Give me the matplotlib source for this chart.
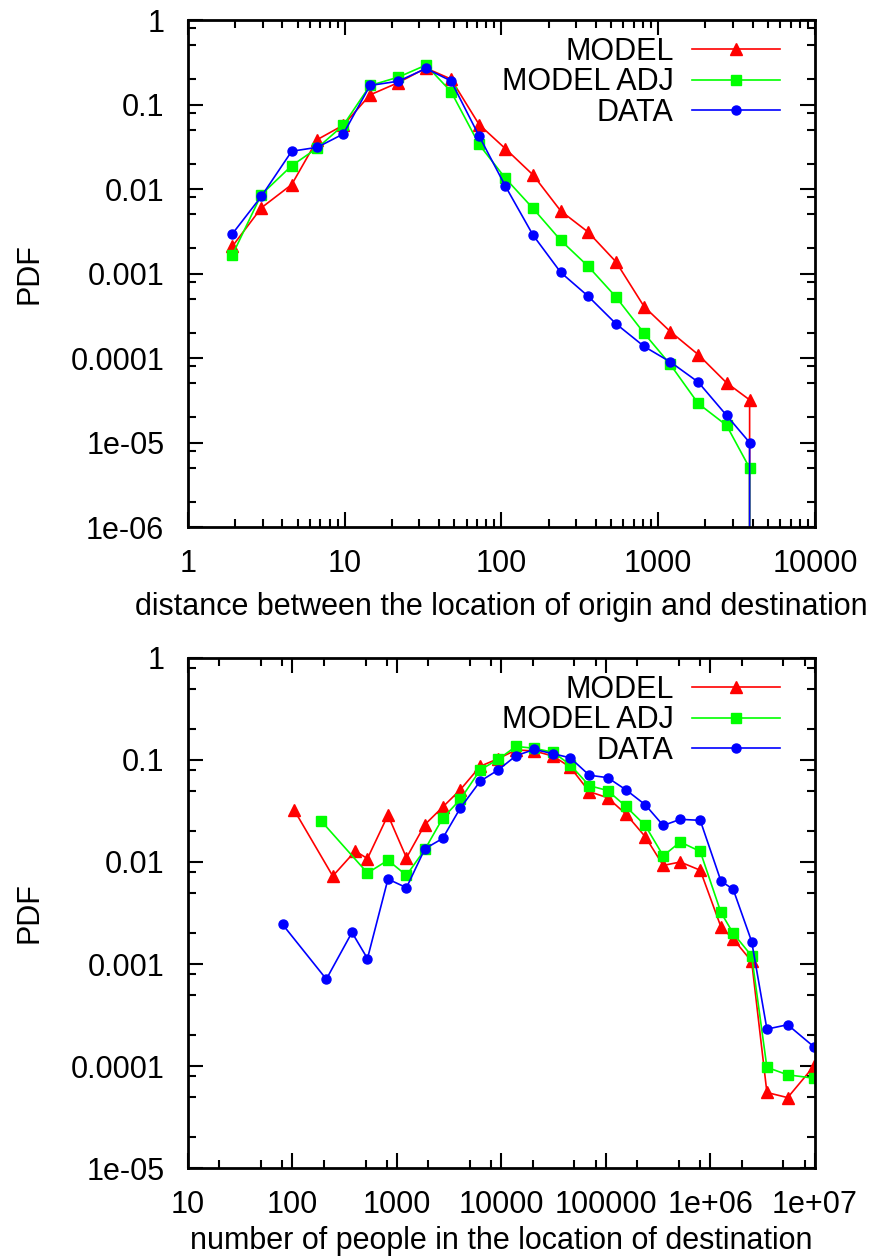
import numpy as np
import matplotlib
matplotlib.use("Agg")
import matplotlib.pyplot as plt
from matplotlib.ticker import FixedLocator, FixedFormatter, NullFormatter

plt.rcParams["font.family"] = ["Liberation Sans", "DejaVu Sans"]
plt.rcParams["font.size"] = 22

# ---- top panel: distance between origin and destination ----
dist_bins = [1.92, 2.94, 4.59, 6.69, 9.8, 14.5, 22, 33, 47.7, 72, 106, 159,
             239, 357, 537, 814, 1194, 1799, 2728, 3830]
dist_model = [0.0021, 0.0060, 0.0113, 0.0385, 0.057, 0.130, 0.182, 0.27, 0.200,
              0.058, 0.030, 0.0147, 0.0055, 0.0031, 0.00138, 0.000405,
              0.000206, 0.00011, 5.1e-5, 3.2e-5]
dist_model_adj = [0.00166, 0.0086, 0.0189, 0.0306, 0.057, 0.168, 0.211, 0.293,
                  0.142, 0.0337, 0.0134, 0.0059, 0.00247, 0.00122, 0.00053,
                  0.000196, 8.4e-5, 2.9e-5, 1.6e-5, 5.0e-6]
dist_data = [0.00295, 0.0082, 0.028, 0.0312, 0.0449, 0.168, 0.189, 0.267, 0.19,
             0.0424, 0.0108, 0.00285, 0.00103, 0.00054, 0.000255, 0.000137,
             9.0e-5, 5.2e-5, 2.1e-5, 1.0e-5]
# all three series end with an empty bin at the last distance (value 0)
dist_tail = 0.0

# ---- bottom panel: population at destination ----
pop_bins = [1233, 1853, 2735, 4032, 6266, 9333, 13770, 20610, 31330, 45530,
            69220, 103800, 155400, 237600, 353300, 513800, 798500, 1.26e6,
            1.65e6, 2.48e6, 3.47e6, 5.48e6, 9.72e6]
pop_model_x = [104, 243, 399, 522, 820] + pop_bins
pop_model = [0.0322, 0.00728, 0.0128, 0.0108, 0.0288,
             0.011, 0.0233, 0.0345, 0.051, 0.0868, 0.103, 0.1255, 0.1226,
             0.109, 0.085, 0.049, 0.0426, 0.0295, 0.0177, 0.00925, 0.01,
             0.0083, 0.00231, 0.00176, 0.00106, 5.5e-5, 4.9e-5, 9.9e-5]
pop_model_adj_x = [188, 522, 820] + pop_bins
pop_model_adj = [0.0253, 0.0078, 0.0104,
                 0.0074, 0.0133, 0.0268, 0.041, 0.080, 0.1016, 0.136, 0.130,
                 0.119, 0.0896, 0.056, 0.0502, 0.035, 0.0228, 0.0115, 0.0157,
                 0.0127, 0.0032, 0.002, 0.0012, 9.7e-5, 8.2e-5, 7.6e-5]
pop_data_x = [80.5, 211, 371, 522, 820] + pop_bins
pop_data = [0.00244, 0.00071, 0.00204, 0.00113, 0.0068,
            0.0056, 0.0135, 0.017, 0.0337, 0.062, 0.080, 0.11, 0.127, 0.115,
            0.105, 0.0709, 0.0671, 0.051, 0.0364, 0.0228, 0.0262, 0.0256,
            0.0065, 0.0054, 0.00166, 0.00023, 0.000254, 0.000155]

labels = ["MODEL", "MODEL ADJ", "DATA"]
colors = ["#ff0000", "#00ff00", "#0000ff"]
markers = ["^", "s", "o"]
msizes = [9, 6.5, 6.5]

top_xticks = [1, 10, 100, 1000, 10000]
top_xlabels = ["1", "10", "100", "1000", "10000"]
top_yticks = [1, 0.1, 0.01, 0.001, 0.0001, 1e-5, 1e-6]
top_ylabels = ["1", "0.1", "0.01", "0.001", "0.0001", "1e-05", "1e-06"]
bot_xticks = [10, 100, 1000, 1e4, 1e5, 1e6, 1e7]
bot_xlabels = ["10", "100", "1000", "10000", "100000", "1e+06", "1e+07"]
bot_yticks = [1, 0.1, 0.01, 0.001, 0.0001, 1e-5]
bot_ylabels = ["1", "0.1", "0.01", "0.001", "0.0001", "1e-05"]


def minor_positions(lo, hi, mults):
    out = []
    e = int(np.floor(np.log10(lo)))
    while 10 ** e <= hi:
        for m in mults:
            v = m * 10.0 ** e
            if lo < v < hi:
                out.append(v)
        e += 1
    return out


def style_axes(ax, xlim, ylim, xt, xl, yt, yl, xminor, yminor):
    ax.set_xscale("log")
    ax.set_yscale("log")
    ax.set_xlim(*xlim)
    ax.set_ylim(*ylim)
    ax.xaxis.set_major_locator(FixedLocator(xt))
    ax.xaxis.set_major_formatter(FixedFormatter(xl))
    ax.yaxis.set_major_locator(FixedLocator(yt))
    ax.yaxis.set_major_formatter(FixedFormatter(yl))
    ax.xaxis.set_minor_locator(FixedLocator(minor_positions(xlim[0], xlim[1], xminor)))
    ax.yaxis.set_minor_locator(FixedLocator(minor_positions(ylim[0], ylim[1], yminor)))
    ax.xaxis.set_minor_formatter(NullFormatter())
    ax.yaxis.set_minor_formatter(NullFormatter())
    ax.tick_params(which="both", direction="in", top=True, right=True, width=1.5)
    ax.tick_params(axis="x", which="major", length=11, pad=16)
    ax.tick_params(axis="x", which="minor", length=5.5)
    ax.tick_params(axis="y", which="major", length=11, pad=17)
    ax.tick_params(axis="y", which="minor", length=5.5)
    for sp in ax.spines.values():
        sp.set_linewidth(2)
    ax.set_ylabel("PDF", labelpad=19)


fig = plt.figure(figsize=(8.69, 12.6), dpi=100)
ax1 = fig.add_axes([0.2163, 0.5817, 0.7215, 0.4024])
ax2 = fig.add_axes([0.2163, 0.0730, 0.7215, 0.4048])

# top panel
top_series = [dist_model, dist_model_adj, dist_data]
for ys, lab, c, m, ms in zip(top_series, labels, colors, markers, msizes):
    xs = dist_bins + [dist_bins[-1]]
    yv = ys + [dist_tail]
    ax1.plot(xs, yv, color=c, lw=1.2, marker=m, ms=ms, mec=c, mfc=c,
             markevery=list(range(len(ys))), label=lab)
style_axes(ax1, (1, 10000), (1e-6, 1), top_xticks, top_xlabels,
           top_yticks, top_ylabels, range(2, 10), [2, 5, 8])
ax1.set_xlabel("distance between the location of origin and destination", labelpad=9)

# bottom panel
bot_series = [(pop_model_x, pop_model), (pop_model_adj_x, pop_model_adj),
              (pop_data_x, pop_data)]
for (xs, ys), lab, c, m, ms in zip(bot_series, labels, colors, markers, msizes):
    ax2.plot(xs, ys, color=c, lw=1.2, marker=m, ms=ms, mec=c, mfc=c, label=lab)
style_axes(ax2, (10, 1e7), (1e-5, 1), bot_xticks, bot_xlabels,
           bot_yticks, bot_ylabels, [2, 5, 8], [2, 5, 8])
ax2.set_xlabel("number of people in the location of destination", labelpad=4)

for ax in (ax1, ax2):
    ax.legend(loc="upper right", bbox_to_anchor=(0.945, 0.967), frameon=False,
              markerfirst=False, handlelength=2.9, handletextpad=0.6,
              labelspacing=0.02, borderpad=0, borderaxespad=0)
    for sp in ax.spines.values():
        sp.set_zorder(5)

fig.savefig("out.png", dpi=100)
